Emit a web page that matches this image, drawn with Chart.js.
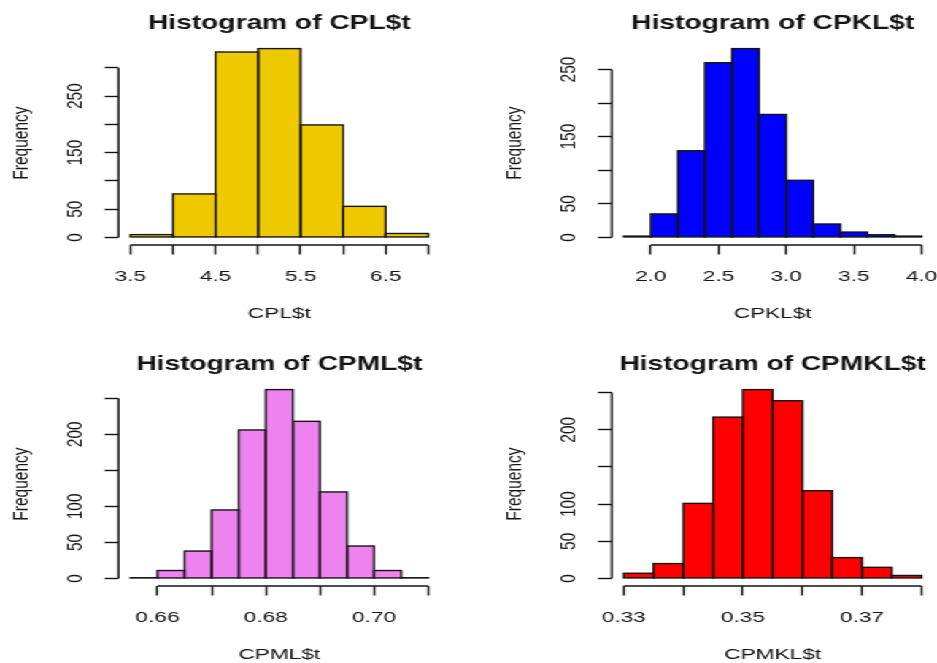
<!DOCTYPE html>
<html>
<head>
<meta charset="utf-8">
<title>Histograms</title>
<script src="https://cdn.jsdelivr.net/npm/chart.js@4.4.1/dist/chart.umd.min.js"></script>
<style>
  html, body { margin: 0; padding: 0; background: #fff; overflow: hidden; }
  /* the four panels are laid out narrow and widened as one sheet */
  #sheet { position: relative; width: 642px; height: 663px; transform: scaleX(1.4595); transform-origin: 0 0; }
  .panel { position: absolute; width: 321px; height: 331px; }
  .panel canvas { display: block; }
</style>
</head>
<body>
<div id="sheet">
  <div class="panel" style="left:0;top:0"><canvas id="cpl" width="321" height="331"></canvas></div>
  <div class="panel" style="left:338.1px;top:0"><canvas id="cpkl" width="321" height="331"></canvas></div>
  <div class="panel" style="left:0;top:340.6px"><canvas id="cpml" width="321" height="331"></canvas></div>
  <div class="panel" style="left:338.1px;top:340.6px"><canvas id="cpmkl" width="321" height="331"></canvas></div>
</div>
<script>
// CPL$t
const cplBreaks = [3.5, 4.0, 4.5, 5.0, 5.5, 6.0, 6.5, 7.0];
const cplCounts = [5, 77, 328, 334, 199, 55, 7];
const cplXTicks = [3.5, 4.0, 4.5, 5.0, 5.5, 6.0, 6.5, 7.0];
const cplXLabels = ['3.5', '4.5', '5.5', '6.5'];
const cplYTicks = [0, 50, 100, 150, 200, 250, 300];
const cplYLabels = ['0', '50', '150', '250'];

// CPKL$t
const cpklBreaks = [1.8, 2.0, 2.2, 2.4, 2.6, 2.8, 3.0, 3.2, 3.4, 3.6, 3.8, 4.0];
const cpklCounts = [2, 35, 129, 260, 281, 183, 85, 20, 8, 4, 2];
const cpklXTicks = [2.0, 2.5, 3.0, 3.5, 4.0];
const cpklXLabels = ['2.0', '2.5', '3.0', '3.5', '4.0'];
const cpklYTicks = [0, 50, 100, 150, 200, 250];
const cpklYLabels = ['0', '50', '150', '250'];

// CPML$t
const cpmlBreaks = [0.655, 0.66, 0.665, 0.67, 0.675, 0.68, 0.685, 0.69, 0.695, 0.70, 0.705, 0.71];
const cpmlCounts = [1, 11, 38, 95, 206, 262, 218, 120, 45, 11, 1];
const cpmlXTicks = [0.66, 0.67, 0.68, 0.69, 0.70, 0.71];
const cpmlXLabels = ['0.66', '0.68', '0.70'];
const cpmlYTicks = [0, 50, 100, 150, 200, 250];
const cpmlYLabels = ['0', '50', '100', '200'];

// CPMKL$t
const cpmklBreaks = [0.33, 0.335, 0.34, 0.345, 0.35, 0.355, 0.36, 0.365, 0.37, 0.375, 0.38];
const cpmklCounts = [7, 20, 101, 217, 254, 239, 118, 28, 15, 4];
const cpmklXTicks = [0.33, 0.34, 0.35, 0.36, 0.37, 0.38];
const cpmklXLabels = ['0.33', '0.35', '0.37'];
const cpmklYTicks = [0, 50, 100, 150, 200, 250];
const cpmklYLabels = ['0', '50', '100', '200'];

var INK = '#141414';
var LINE = 1.4;

Chart.defaults.font.family = '"Liberation Sans", Arial, Helvetica, sans-serif';
Chart.defaults.color = INK;

function matchLabel(value, labels) {
    for (var i = 0; i < labels.length; i++) {
        if (Math.abs(parseFloat(labels[i]) - value) < 1e-9) return labels[i];
    }
    return '';
}

// 4% breathing room on both ends, like base graphics
function padRange(lo, hi) {
    var d = (hi - lo) * 0.04;
    return [lo - d, hi + d];
}

// axis lines only run from the first to the last tick
var axisLines = {
    id: 'axisLines',
    afterDraw: function(chart) {
        var ctx = chart.ctx, area = chart.chartArea;
        var x = chart.scales.x, y = chart.scales.y;
        var xt = x.ticks, yt = y.ticks;
        ctx.save();
        ctx.strokeStyle = INK;
        ctx.lineWidth = LINE;
        ctx.beginPath();
        ctx.moveTo(x.getPixelForValue(xt[0].value), area.bottom);
        ctx.lineTo(x.getPixelForValue(xt[xt.length - 1].value), area.bottom);
        ctx.moveTo(area.left, y.getPixelForValue(yt[0].value));
        ctx.lineTo(area.left, y.getPixelForValue(yt[yt.length - 1].value));
        ctx.stroke();
        ctx.restore();
    }
};

// outline each bar centred on its edges so neighbours share one line,
// and near-empty bins still show up as a dark stroke
var barOutlines = {
    id: 'barOutlines',
    afterDatasetsDraw: function(chart) {
        var ctx = chart.ctx;
        ctx.save();
        ctx.strokeStyle = INK;
        ctx.lineWidth = LINE;
        chart.getDatasetMeta(0).data.forEach(function(bar) {
            var p = bar.getProps(['x', 'y', 'base', 'width'], true);
            ctx.strokeRect(p.x - p.width / 2, Math.min(p.y, p.base), p.width, Math.abs(p.base - p.y));
        });
        ctx.restore();
    }
};

function histogram(canvasId, cfg) {
    var points = cfg.counts.map(function(c, i) {
        return { x: (cfg.breaks[i] + cfg.breaks[i + 1]) / 2, y: c };
    });
    var xr = padRange(cfg.breaks[0], cfg.breaks[cfg.breaks.length - 1]);
    var yr = padRange(0, Math.max.apply(null, cfg.counts));
    var tickGrid = {
        offset: false,
        drawOnChartArea: false,
        drawTicks: true,
        tickLength: 9.5,
        tickWidth: LINE,
        tickColor: INK
    };

    new Chart(document.getElementById(canvasId), {
        type: 'bar',
        data: {
            datasets: [{
                data: points,
                backgroundColor: cfg.color,
                borderWidth: 0,
                inflateAmount: 0,
                barPercentage: 1,
                categoryPercentage: 1
            }]
        },
        options: {
            responsive: false,
            animation: false,
            events: [],
            layout: { padding: { left: 0, right: 19.4, top: 0, bottom: 0 } },
            plugins: {
                legend: { display: false },
                tooltip: { enabled: false },
                title: {
                    display: true,
                    fullSize: false,
                    text: 'Histogram of ' + cfg.name,
                    color: INK,
                    font: { size: 19.3, weight: 'bold' },
                    padding: { top: 12.1, bottom: 5.8 }
                }
            },
            scales: {
                x: {
                    type: 'linear',
                    min: xr[0],
                    max: xr[1],
                    offset: false,
                    grid: tickGrid,
                    border: { display: false },
                    afterBuildTicks: function(s) {
                        s.ticks = cfg.xTicks.map(function(v) { return { value: v }; });
                    },
                    afterFit: function(s) { s.height = 86; },
                    ticks: {
                        autoSkip: false,
                        maxRotation: 0,
                        padding: 13,
                        font: { size: 15.5 },
                        callback: function(v) { return matchLabel(v, cfg.xLabels); }
                    },
                    title: {
                        display: true,
                        text: cfg.name,
                        font: { size: 15.5 },
                        padding: { top: 0, bottom: 8.4 }
                    }
                },
                y: {
                    type: 'linear',
                    min: yr[0],
                    max: yr[1],
                    grid: tickGrid,
                    border: { display: false },
                    afterBuildTicks: function(s) {
                        s.ticks = cfg.yTicks.map(function(v) { return { value: v }; });
                    },
                    afterFit: function(s) { s.width = 81.2; },
                    ticks: {
                        autoSkip: false,
                        minRotation: 90,
                        maxRotation: 90,
                        crossAlign: 'center',
                        padding: 6.7,
                        font: { size: 15.5 },
                        callback: function(v) { return matchLabel(v, cfg.yLabels); }
                    },
                    title: {
                        display: true,
                        text: 'Frequency',
                        font: { size: 15.5 },
                        padding: { top: 5.4, bottom: 0 }
                    }
                }
            }
        },
        plugins: [barOutlines, axisLines]
    });
}

histogram('cpl', {
    name: 'CPL$t', color: '#EEC900',
    breaks: cplBreaks, counts: cplCounts,
    xTicks: cplXTicks, xLabels: cplXLabels, yTicks: cplYTicks, yLabels: cplYLabels
});
histogram('cpkl', {
    name: 'CPKL$t', color: '#0000FF',
    breaks: cpklBreaks, counts: cpklCounts,
    xTicks: cpklXTicks, xLabels: cpklXLabels, yTicks: cpklYTicks, yLabels: cpklYLabels
});
histogram('cpml', {
    name: 'CPML$t', color: '#EE82EE',
    breaks: cpmlBreaks, counts: cpmlCounts,
    xTicks: cpmlXTicks, xLabels: cpmlXLabels, yTicks: cpmlYTicks, yLabels: cpmlYLabels
});
histogram('cpmkl', {
    name: 'CPMKL$t', color: '#FF0000',
    breaks: cpmklBreaks, counts: cpmklCounts,
    xTicks: cpmklXTicks, xLabels: cpmklXLabels, yTicks: cpmklYTicks, yLabels: cpmklYLabels
});
</script>
</body>
</html>
